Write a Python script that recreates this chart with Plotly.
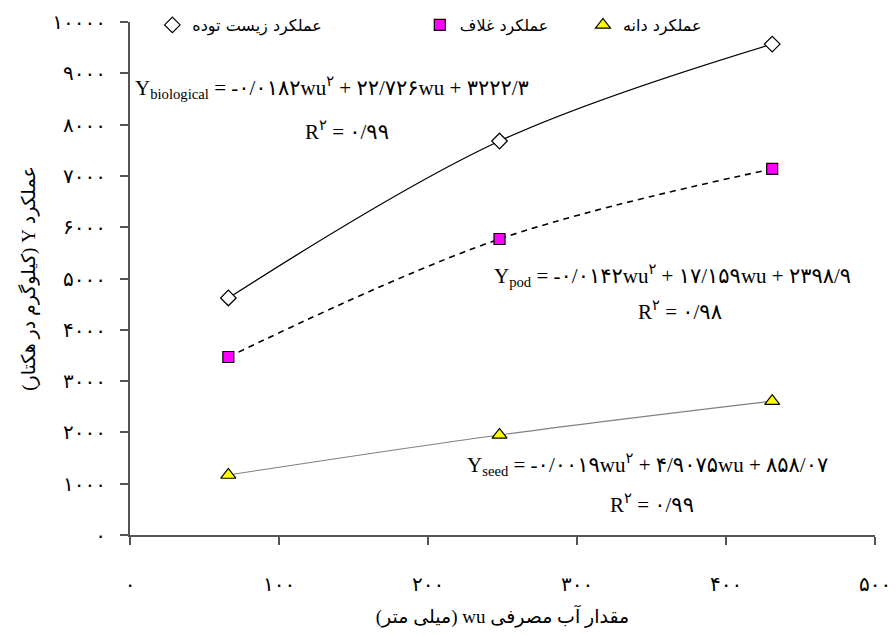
import plotly.graph_objects as go

# water use (mm) and yields (kg/ha)
wu = [66, 248, 431]
y_biological = [4620, 7680, 9570]
y_pod = [3470, 5770, 7135]
y_seed = [1170, 1950, 2610]

x_ticks = [0, 100, 200, 300, 400, 500]
x_ticktext = ["۰", "۱۰۰", "۲۰۰", "۳۰۰", "۴۰۰", "۵۰۰"]
y_ticks = [0, 1000, 2000, 3000, 4000, 5000, 6000, 7000, 8000, 9000, 10000]
y_ticktext = ["۰", "۱۰۰۰", "۲۰۰۰", "۳۰۰۰", "۴۰۰۰", "۵۰۰۰", "۶۰۰۰", "۷۰۰۰", "۸۰۰۰", "۹۰۰۰", "۱۰۰۰۰"]

names = ["عملکرد زیست توده", "عملکرد غلاف", "عملکرد دانه"]
equations = [
    "Y<sub>biological</sub> = -۰/۰۱۸۲wu<sup>۲</sup> + ۲۲/۷۲۶wu + ۳۲۲۲/۳",
    "Y<sub>pod</sub> = -۰/۰۱۴۲wu<sup>۲</sup> + ۱۷/۱۵۹wu + ۲۳۹۸/۹",
    "Y<sub>seed</sub> = -۰/۰۰۱۹wu<sup>۲</sup> + ۴/۹۰۷۵wu + ۸۵۸/۰۷",
]
r2 = ["R<sup>۲</sup> = ۰/۹۹", "R<sup>۲</sup> = ۰/۹۸", "R<sup>۲</sup> = ۰/۹۹"]

RLE, PDF = "\u202b", "\u202c"
serif = "Liberation Serif, DejaVu Serif, DejaVu Sans"

fig = go.Figure()

# trend lines
fig.add_trace(go.Scatter(x=wu, y=y_biological, mode="lines", line=dict(color="black", width=1.3, shape="spline"),
                         showlegend=False, hoverinfo="skip"))
fig.add_trace(go.Scatter(x=wu, y=y_pod, mode="lines", line=dict(color="black", width=1.6, dash="6px,5px", shape="spline"),
                         showlegend=False, hoverinfo="skip"))
fig.add_trace(go.Scatter(x=wu, y=y_seed, mode="lines", line=dict(color="#808080", width=1.1, shape="spline"),
                         showlegend=False, hoverinfo="skip"))

# markers
fig.add_trace(go.Scatter(x=wu, y=y_biological, mode="markers", name=names[0], legend="legend",
                         marker=dict(symbol="diamond", size=12, color="white", line=dict(color="black", width=1.2))))
fig.add_trace(go.Scatter(x=wu, y=y_pod, mode="markers", name=names[1], legend="legend2",
                         marker=dict(symbol="square", size=11, color="#FF00FF", line=dict(color="black", width=1.2))))
fig.add_trace(go.Scatter(x=wu, y=y_seed, mode="markers", name=names[2], legend="legend3",
                         marker=dict(symbol="triangle-up", size=13, color="#FFFF00", line=dict(color="black", width=1.2))))

eq_pos = [(0.271, 0.873), (0.728, 0.505), (0.695, 0.138)]
r2_pos = [(0.291, 0.788), (0.738, 0.437), (0.701, 0.062)]
for txt, (px, py) in zip(equations, eq_pos):
    fig.add_annotation(x=px, y=py, xref="paper", yref="paper", text=txt, showarrow=False,
                       xanchor="center", yanchor="middle",
                       font=dict(family=serif, size=21, color="black"))
for txt, (px, py) in zip(r2, r2_pos):
    fig.add_annotation(x=px, y=py, xref="paper", yref="paper", text=txt, showarrow=False,
                       xanchor="center", yanchor="middle",
                       font=dict(family=serif, size=21, color="black"))

leg_font = dict(family="DejaVu Sans", size=16, color="black")
leg = dict(orientation="h", yref="container", yanchor="top", y=1.0, xanchor="left", font=leg_font,
           bgcolor="rgba(0,0,0,0)", itemwidth=30)

axis_line = "#555555"
fig.update_layout(
    width=896, height=637,
    margin=dict(l=122, r=29, t=14, b=110, autoexpand=False),
    plot_bgcolor="white", paper_bgcolor="white",
    legend=dict(leg, x=0.03),
    legend2=dict(leg, x=0.389),
    legend3=dict(leg, x=0.608),
    xaxis=dict(range=[0, 500], tickvals=x_ticks, ticktext=x_ticktext, showgrid=False, zeroline=False,
               automargin=False,
               showline=True, linecolor=axis_line, linewidth=2, ticks="outside", ticklen=8, tickwidth=1.5,
               tickcolor=axis_line, ticklabelstandoff=22, tickfont=dict(family=serif, size=20, color="black"),
               title=dict(text=RLE + "مقدار آب مصرفی wu (میلی متر)" + PDF, standoff=16,
                          font=dict(family=serif, size=19, color="black"))),
    yaxis=dict(range=[0, 10000], tickvals=y_ticks, ticktext=y_ticktext, showgrid=False, zeroline=False,
               automargin=False,
               showline=True, linecolor=axis_line, linewidth=2, ticks="outside", ticklen=8, tickwidth=1.5,
               tickcolor=axis_line, ticklabelstandoff=10, tickfont=dict(family=serif, size=20, color="black"),
               title=dict(text=RLE + "عملکرد Y (کیلوگرم در هکتار)" + PDF, standoff=12,
                          font=dict(family=serif, size=19, color="black"))),
)

fig.write_html("out.html")
